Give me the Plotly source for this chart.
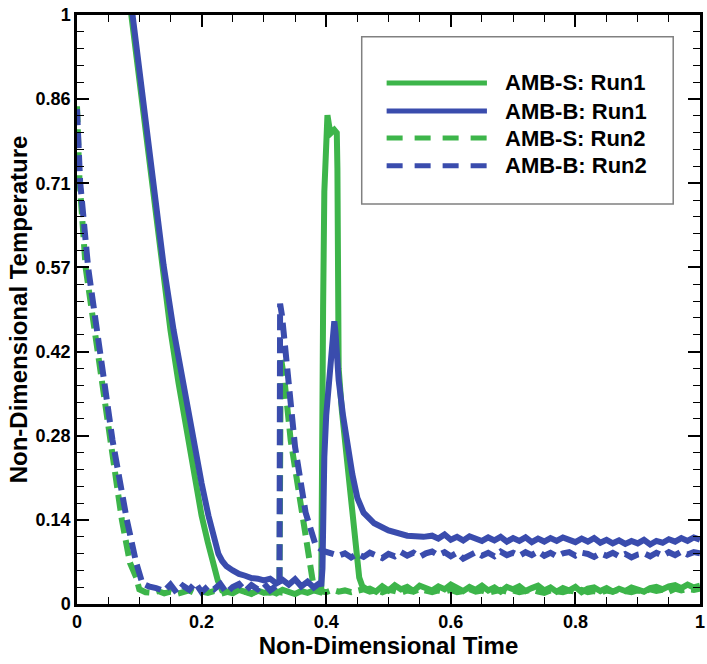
import plotly.graph_objects as go

def grid(a, b, step=0.01):
    n = int(round((b - a) / step)) + 1
    return [round(a + step * i, 3) for i in range(n)]

# ---------------- data ----------------
series_names = ["AMB-S: Run1", "AMB-B: Run1", "AMB-S: Run2", "AMB-B: Run2"]
green = "#3db54a"
blue = "#3a4cad"

# AMB-S : Run1 (green, solid)
s1_x = ([0.086, 0.103, 0.12, 0.136, 0.15, 0.163, 0.177, 0.19, 0.2, 0.21, 0.219, 0.226, 0.233]
        + grid(0.24, 0.39)
        + [0.392, 0.394, 0.395, 0.397, 0.40, 0.402, 0.405, 0.408, 0.413, 0.417, 0.418, 0.419,
           0.42, 0.425, 0.431, 0.437, 0.442, 0.448, 0.453, 0.458, 0.465]
        + grid(0.47, 1.0))
s1_y = ([1.01, 0.86, 0.71, 0.575, 0.465, 0.375, 0.285, 0.205, 0.15, 0.105, 0.068, 0.04, 0.023]
        + [0.021, 0.018, 0.024, 0.02, 0.017, 0.023, 0.019, 0.022, 0.018, 0.024, 0.02, 0.017,
           0.022, 0.019, 0.023, 0.02]
        + [0.025, 0.2, 0.5, 0.7, 0.82, 0.83, 0.81, 0.8, 0.805, 0.8, 0.74, 0.55,
           0.4, 0.33, 0.267, 0.21, 0.155, 0.095, 0.045, 0.03, 0.025]
        + [0.026, 0.021, 0.03, 0.023, 0.032, 0.025, 0.029, 0.022, 0.031, 0.026,
           0.023, 0.03, 0.025, 0.033, 0.027, 0.022, 0.029, 0.024, 0.031, 0.023,
           0.028, 0.021, 0.029, 0.025, 0.03, 0.022, 0.027, 0.031, 0.023, 0.028,
           0.021, 0.027, 0.023, 0.029, 0.02, 0.026, 0.028, 0.022, 0.027, 0.021,
           0.026, 0.022, 0.028, 0.024, 0.021, 0.027, 0.029, 0.025, 0.03, 0.032,
           0.027, 0.033, 0.028, 0.031])

# AMB-B : Run1 (blue, solid)
b1_x = ([0.088, 0.105, 0.122, 0.139, 0.155, 0.17, 0.186, 0.2, 0.211, 0.22, 0.227, 0.233]
        + grid(0.24, 0.39)
        + [0.392, 0.394, 0.395, 0.397, 0.40, 0.405, 0.41, 0.413, 0.415, 0.417, 0.42, 0.427,
           0.434, 0.442, 0.45, 0.46, 0.477, 0.50, 0.53, 0.556]
        + grid(0.57, 1.0))
b1_y = ([1.01, 0.86, 0.71, 0.575, 0.465, 0.375, 0.285, 0.205, 0.15, 0.11, 0.085, 0.073]
        + [0.064, 0.057, 0.051, 0.048, 0.044, 0.043, 0.04, 0.043, 0.035, 0.041, 0.033, 0.042,
           0.03, 0.038, 0.028, 0.036]
        + [0.03, 0.06, 0.16, 0.25, 0.32, 0.38, 0.44, 0.48, 0.46, 0.42, 0.38, 0.32,
           0.267, 0.22, 0.18, 0.155, 0.137, 0.125, 0.116, 0.114]
        + [0.116, 0.111, 0.118, 0.109, 0.114, 0.108, 0.115, 0.11, 0.107, 0.113,
           0.108, 0.114, 0.106, 0.112, 0.107, 0.113, 0.105, 0.111, 0.106, 0.112,
           0.107, 0.113, 0.108, 0.105, 0.111, 0.106, 0.112, 0.104, 0.109, 0.103,
           0.108, 0.102, 0.107, 0.103, 0.109, 0.101, 0.107, 0.104, 0.11, 0.106,
           0.112, 0.107, 0.113, 0.109])

# AMB-S : Run2 (green, dashed)
s2_x = ([0.0, 0.004, 0.014, 0.026, 0.03, 0.052, 0.072, 0.085, 0.095, 0.1, 0.11]
        + grid(0.12, 0.32)
        + [0.325, 0.327, 0.333, 0.343, 0.36, 0.374, 0.379, 0.385]
        + grid(0.39, 1.0))
s2_y = ([0.845, 0.72, 0.57, 0.48, 0.45, 0.278, 0.143, 0.07, 0.045, 0.025, 0.02]
        + [0.019, 0.022, 0.018, 0.021, 0.017, 0.02, 0.023, 0.018, 0.021, 0.019, 0.022,
           0.017, 0.02, 0.023, 0.019, 0.021, 0.018, 0.022, 0.02, 0.019, 0.021]
        + [0.02, 0.42, 0.38, 0.278, 0.16, 0.07, 0.035, 0.025]
        + [0.022, 0.02, 0.024, 0.021, 0.023, 0.02, 0.022, 0.025, 0.021, 0.023,
           0.02, 0.024, 0.022, 0.019, 0.023, 0.021, 0.025, 0.022, 0.02, 0.023,
           0.021, 0.024, 0.02, 0.022, 0.025, 0.021, 0.023, 0.019, 0.022, 0.024,
           0.021, 0.023, 0.02, 0.022, 0.024, 0.021, 0.019, 0.023, 0.022, 0.02,
           0.023, 0.021, 0.024, 0.02, 0.022, 0.019, 0.023, 0.021, 0.024, 0.022,
           0.02, 0.023, 0.021, 0.025, 0.022, 0.024, 0.021, 0.026, 0.023, 0.025,
           0.024, 0.026])

# AMB-B : Run2 (blue, dashed)
b2_x = ([0.0, 0.005, 0.018, 0.03, 0.034, 0.057, 0.08, 0.095, 0.105, 0.115, 0.127]
        + grid(0.14, 0.32)
        + [0.325, 0.326, 0.329, 0.339, 0.35, 0.367, 0.383, 0.395, 0.41]
        + grid(0.42, 1.0))
b2_y = ([0.84, 0.717, 0.57, 0.48, 0.45, 0.278, 0.143, 0.07, 0.035, 0.03, 0.027]
        + [0.022, 0.033, 0.019, 0.031, 0.024, 0.036, 0.02, 0.03, 0.025, 0.034, 0.019,
           0.029, 0.034, 0.022, 0.032, 0.025, 0.035, 0.023, 0.031]
        + [0.03, 0.51, 0.49, 0.38, 0.267, 0.155, 0.1, 0.09, 0.085]
        + [0.082, 0.086, 0.079, 0.085, 0.08, 0.087, 0.083, 0.078, 0.085, 0.081,
           0.088, 0.082, 0.087, 0.08, 0.086, 0.089, 0.083, 0.088, 0.081, 0.087,
           0.077, 0.084, 0.088, 0.082, 0.087, 0.081, 0.089, 0.083, 0.087, 0.082,
           0.088, 0.083, 0.089, 0.082, 0.087, 0.081, 0.086, 0.088, 0.082, 0.087,
           0.085, 0.08, 0.086, 0.082, 0.087, 0.081, 0.085, 0.079, 0.084, 0.086,
           0.081, 0.087, 0.082, 0.088, 0.083, 0.089, 0.084, 0.088, 0.086])

x_tickvals = [0, 0.2, 0.4, 0.6, 0.8, 1.0]
x_ticktext = ["0", "0.2", "0.4", "0.6", "0.8", "1"]
y_tickvals = [0, 1 / 7, 2 / 7, 3 / 7, 4 / 7, 5 / 7, 6 / 7, 1.0]
y_ticktext = ["0", "0.14", "0.28", "0.42", "0.57", "0.71", "0.86", "1"]

# ---------------- figure ----------------
DATA_DASH = "16px,7px"
LEG_DASH = "16px,12px"
traces = [
    (s2_x, s2_y, series_names[2], green, DATA_DASH),
    (s1_x, s1_y, series_names[0], green, "solid"),
    (b2_x, b2_y, series_names[3], blue, DATA_DASH),
    (b1_x, b1_y, series_names[1], blue, "solid"),
]
fig = go.Figure()
for xs, ys, nm, col, dsh in traces:
    fig.add_trace(go.Scatter(x=xs, y=ys, name=nm, mode="lines",
                             line=dict(color=col, width=6, dash=dsh),
                             showlegend=False))

axis_common = dict(
    showline=True, linecolor="black", linewidth=2.5, mirror="allticks",
    ticks="inside", ticklen=12, tickwidth=2, tickcolor="black",
    showgrid=False, zeroline=False, ticklabeloverflow="allow",
    tickfont=dict(size=18, color="black", weight="bold"),
)
fig.update_xaxes(range=[0, 1], tickvals=x_tickvals, ticktext=x_ticktext,
                 minor=dict(dtick=0.05, tick0=0, ticks="inside", ticklen=7,
                            tickwidth=1.2, tickcolor="black", showgrid=False),
                 title=dict(text="Non-Dimensional Time", standoff=6,
                            font=dict(size=24, color="black", weight="bold")),
                 **axis_common)
fig.update_yaxes(range=[0, 1], tickvals=y_tickvals, ticktext=y_ticktext,
                 minor=dict(dtick=1 / 35, tick0=0, ticks="inside", ticklen=7,
                            tickwidth=1.2, tickcolor="black", showgrid=False),
                 title=dict(text="Non-Dimensional Temperature", standoff=2,
                            font=dict(size=24, color="black", weight="bold")),
                 **axis_common)

# ---------------- legend (drawn box) ----------------
legend_rows = [
    (series_names[0], green, "solid"),
    (series_names[1], blue, "solid"),
    (series_names[2], green, LEG_DASH),
    (series_names[3], blue, LEG_DASH),
]
shapes = [dict(type="rect", xref="paper", yref="paper", x0=0.457, x1=0.957,
               y0=0.679, y1=0.963, line=dict(color="#808080", width=1.5),
               fillcolor="white", layer="above")]
annotations = []
row_y = [0.8846, 0.837, 0.791, 0.744]
for (nm, col, dsh), yy in zip(legend_rows, row_y):
    shapes.append(dict(type="line", xref="paper", yref="paper", x0=0.497, x1=0.658,
                       y0=yy, y1=yy, line=dict(color=col, width=5, dash=dsh),
                       layer="above"))
    annotations.append(dict(xref="paper", yref="paper", x=0.683, y=yy, text=nm,
                            showarrow=False, xanchor="left", yanchor="middle",
                            font=dict(size=22, color="black", weight="bold")))

fig.update_layout(
    width=707, height=664,
    margin=dict(l=77, r=2, t=15, b=60),
    plot_bgcolor="white", paper_bgcolor="white",
    font=dict(family="Liberation Sans, Arial, sans-serif", color="black"),
    showlegend=False,
    shapes=shapes, annotations=annotations,
)

fig.write_html("out.html")
